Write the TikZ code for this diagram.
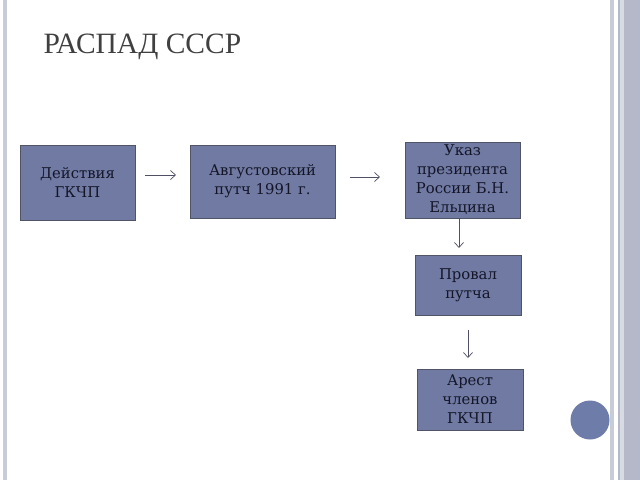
\documentclass[tikz,border=0pt]{standalone}
\usepackage{fontspec}
\setmainfont{Liberation Serif}
\newfontfamily\boxfont{DejaVu Serif}
\usetikzlibrary{arrows.meta}
\definecolor{boxfill}{RGB}{112,122,162}
\definecolor{boxline}{RGB}{80,84,100}
\definecolor{circfill}{RGB}{110,124,170}
\definecolor{bandA}{RGB}{180,184,200}
\definecolor{bandB}{RGB}{200,204,214}
\definecolor{titlecol}{RGB}{64,64,64}
\definecolor{arrowcol}{RGB}{80,80,100}
\definecolor{boxtext}{RGB}{20,22,40}
\tikzset{
  box/.style={draw=boxline, line width=0.8pt, fill=boxfill, align=center, inner sep=0pt,
    font=\boxfont\fontsize{14.8}{19}\selectfont, text=boxtext},
  conn/.style={draw=arrowcol, line width=0.7pt, -{Straight Barb[length=5pt,width=9pt]}}
}
\begin{document}
\begin{tikzpicture}[x=1pt,y=-1pt]
\useasboundingbox (0,0) rectangle (640,480);
\fill[white] (0,0) rectangle (640,480);
% frame lines
\fill[bandB] (3,0) rectangle (7,480);
\fill[bandB] (610,0) rectangle (614,480);
\fill[bandA] (618,0) rectangle (640,480);
\fill[bandB!70!white] (620,0) rectangle (624,480);
% title
\node[anchor=west, text=titlecol, font=\fontsize{29.5}{34}\selectfont] (title) at (40,47) {РАСПАД СССР};
% boxes
\node[box, minimum width=115, minimum height=75] (b1) at (77.5,182.5) {Действия\\ГКЧП};
\node[box, minimum width=145, minimum height=73] (b2) at (262.5,181.5) {Августовский\\путч 1991 г.};
\node[box, minimum width=115, minimum height=76] (b3) at (462.5,180) {Указ\\президента\\России Б.Н.\\Ельцина};
\node[box, minimum width=106, minimum height=60] (b4) at (468,285) {Провал\\путча};
\node[box, minimum width=106, minimum height=61] (b5) at (470,399.5) {Арест\\членов\\ГКЧП};
\node[circle, fill=circfill, minimum size=39, inner sep=0pt] (c1) at (590,420) {};
% connectors
\coordinate (a1s) at (145,175); \coordinate (a1e) at (176,175);
\coordinate (a2s) at (350,177); \coordinate (a2e) at (380,177);
\coordinate (a3s) at (459,218); \coordinate (a3e) at (459,248);
\coordinate (a4s) at (468,330); \coordinate (a4e) at (468,358);
\draw[conn] (a1s) -- (a1e);
\draw[conn] (a2s) -- (a2e);
\draw[conn] (b3.south -| a3s) -- (a3e);
\draw[conn] (a4s) -- (a4e);
\end{tikzpicture}
\end{document}
